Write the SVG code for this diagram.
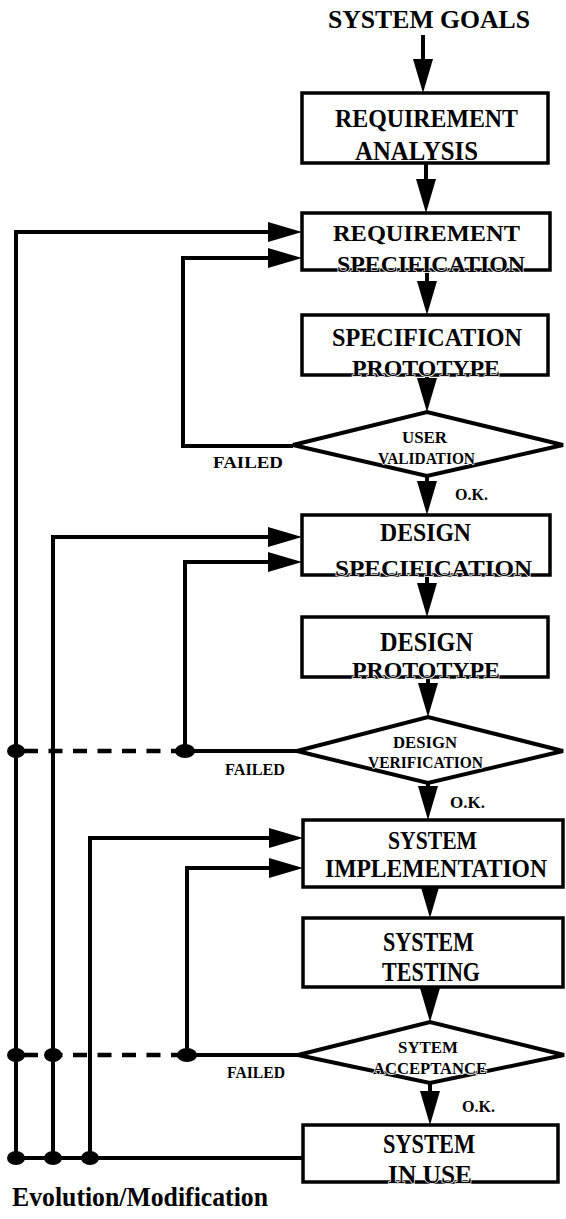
<svg xmlns="http://www.w3.org/2000/svg" width="566" height="1219" viewBox="0 0 566 1219">
<style>
  .box{fill:#fff;stroke:#000;stroke-width:3.5}
  .dia{fill:#fff;stroke:#000;stroke-width:4;stroke-linejoin:miter}
  .t{font-family:"Liberation Serif","Times New Roman",serif;font-weight:bold;fill:#000}
  .h{stroke:#fff;stroke-width:1.5;paint-order:stroke}
  .ln{fill:none;stroke:#000;stroke-width:4}
  .dash{fill:none;stroke:#000;stroke-width:4.5;stroke-dasharray:14 10.5}
  .dot{fill:#000}
</style>
<defs>
  <marker id="ah" markerUnits="userSpaceOnUse" markerWidth="36" markerHeight="22" refX="6" refY="11" orient="auto">
    <path d="M0,1 L34,11 L0,21 z" fill="#000"/>
  </marker>
</defs>

<text class="t" x="328" y="28" font-size="25" textLength="202" lengthAdjust="spacingAndGlyphs">SYSTEM GOALS</text>

<g id="connectors">
  <line class="ln" x1="423" y1="35" x2="423" y2="65" marker-end="url(#ah)"/>
  <line class="ln" x1="426" y1="163" x2="426" y2="185" marker-end="url(#ah)"/>
  <line class="ln" x1="427" y1="270" x2="427" y2="287" marker-end="url(#ah)"/>
  <line class="ln" x1="427" y1="375" x2="427" y2="384" marker-end="url(#ah)"/>
  <line class="ln" x1="427" y1="476" x2="427" y2="487" marker-end="url(#ah)"/>
  <line class="ln" x1="427" y1="575" x2="427" y2="589" marker-end="url(#ah)"/>
  <line class="ln" x1="428" y1="677" x2="428" y2="689" marker-end="url(#ah)"/>
  <line class="ln" x1="428" y1="783" x2="428" y2="792" marker-end="url(#ah)"/>
  <line class="ln" x1="430" y1="887" x2="430" y2="890" marker-end="url(#ah)"/>
  <line class="ln" x1="430" y1="987" x2="430" y2="994" marker-end="url(#ah)"/>
  <line class="ln" x1="430" y1="1083" x2="430" y2="1097" marker-end="url(#ah)"/>

  <path class="ln" d="M16,1158 V232 H274" marker-end="url(#ah)"/>
  <path class="ln" d="M53,1158 V537 H274" marker-end="url(#ah)"/>
  <path class="ln" d="M90,1158 V838 H275" marker-end="url(#ah)"/>
  <path class="ln" d="M14,1158 H303"/>
  <path class="ln" d="M293,446 H183 V258 H274" marker-end="url(#ah)"/>
  <path class="ln" d="M297,751 H185 V562 H274" marker-end="url(#ah)"/>
  <path class="ln" d="M298,1055 H187 V868 H275" marker-end="url(#ah)"/>
  <path class="dash" d="M24,751 H176"/>
  <path class="dash" d="M24,1055 H178"/>
  <ellipse class="dot" cx="16" cy="751" rx="9" ry="7"/>
  <ellipse class="dot" cx="185" cy="751" rx="10" ry="7"/>
  <ellipse class="dot" cx="16" cy="1055" rx="9" ry="7"/>
  <ellipse class="dot" cx="53" cy="1055" rx="9" ry="7"/>
  <ellipse class="dot" cx="187" cy="1055" rx="10" ry="7"/>
  <ellipse class="dot" cx="16" cy="1158" rx="9" ry="7"/>
  <ellipse class="dot" cx="53" cy="1158" rx="9" ry="7"/>
  <ellipse class="dot" cx="90" cy="1158" rx="9" ry="7"/>

  <text class="t" x="213" y="468" font-size="16" textLength="70" lengthAdjust="spacingAndGlyphs">FAILED</text>
  <text class="t" x="225" y="775" font-size="16" textLength="60" lengthAdjust="spacingAndGlyphs">FAILED</text>
  <text class="t" x="227" y="1078" font-size="16" textLength="58" lengthAdjust="spacingAndGlyphs">FAILED</text>
  <text class="t" x="455" y="500" font-size="17" textLength="33" lengthAdjust="spacingAndGlyphs">O.K.</text>
  <text class="t" x="450" y="808" font-size="17" textLength="35" lengthAdjust="spacingAndGlyphs">O.K.</text>
  <text class="t" x="462" y="1112" font-size="17" textLength="33" lengthAdjust="spacingAndGlyphs">O.K.</text>
</g>

<g id="req-analysis">
  <rect class="box" x="302" y="93" width="246" height="70"/>
  <text class="t" x="335" y="127" font-size="26" textLength="183" lengthAdjust="spacingAndGlyphs">REQUIREMENT</text>
  <text class="t" x="355" y="160" font-size="27" textLength="123" lengthAdjust="spacingAndGlyphs">ANALYSIS</text>
</g>
<g id="req-spec">
  <rect class="box" x="302" y="213" width="248" height="57"/>
  <text class="t" x="333" y="241" font-size="24" textLength="187" lengthAdjust="spacingAndGlyphs">REQUIREMENT</text>
  <text class="t h" x="337" y="272" font-size="24" textLength="188" lengthAdjust="spacingAndGlyphs">SPECIFICATION</text>
</g>
<g id="spec-proto">
  <rect class="box" x="302" y="315" width="246" height="60"/>
  <text class="t" x="332" y="346" font-size="26" textLength="190" lengthAdjust="spacingAndGlyphs">SPECIFICATION</text>
  <text class="t h" x="352" y="376" font-size="24" textLength="148" lengthAdjust="spacingAndGlyphs">PROTOTYPE</text>
</g>
<g id="user-validation">
  <polygon class="dia" points="293,445 427,412 563,445 427,476"/>
  <text class="t" x="402" y="443" font-size="16" textLength="45" lengthAdjust="spacingAndGlyphs">USER</text>
  <text class="t h" x="378" y="464" font-size="17" textLength="97" lengthAdjust="spacingAndGlyphs">VALIDATION</text>
</g>
<g id="design-spec">
  <rect class="box" x="302" y="515" width="248" height="60"/>
  <text class="t" x="380" y="541" font-size="26" textLength="91" lengthAdjust="spacingAndGlyphs">DESIGN</text>
  <text class="t h" x="335" y="576" font-size="24" textLength="197" lengthAdjust="spacingAndGlyphs">SPECIFICATION</text>
</g>
<g id="design-proto">
  <rect class="box" x="302" y="617" width="246" height="60"/>
  <text class="t" x="380" y="651" font-size="27" textLength="93" lengthAdjust="spacingAndGlyphs">DESIGN</text>
  <text class="t h" x="352" y="678" font-size="24" textLength="148" lengthAdjust="spacingAndGlyphs">PROTOTYPE</text>
</g>
<g id="design-verification">
  <polygon class="dia" points="297,751 428,717 563,751 428,783"/>
  <text class="t" x="393" y="748" font-size="17" textLength="64" lengthAdjust="spacingAndGlyphs">DESIGN</text>
  <text class="t h" x="368" y="768" font-size="17" textLength="115" lengthAdjust="spacingAndGlyphs">VERIFICATION</text>
</g>
<g id="sys-impl">
  <rect class="box" x="303" y="820" width="260" height="67"/>
  <text class="t" x="388" y="849" font-size="26" textLength="89" lengthAdjust="spacingAndGlyphs">SYSTEM</text>
  <text class="t" x="325" y="877" font-size="25" textLength="222" lengthAdjust="spacingAndGlyphs">IMPLEMENTATION</text>
</g>
<g id="sys-testing">
  <rect class="box" x="303" y="918" width="260" height="69"/>
  <text class="t" x="383" y="951" font-size="27" textLength="91" lengthAdjust="spacingAndGlyphs">SYSTEM</text>
  <text class="t" x="382" y="981" font-size="27" textLength="98" lengthAdjust="spacingAndGlyphs">TESTING</text>
</g>
<g id="sys-acceptance">
  <polygon class="dia" points="298,1055 430,1022 564,1055 430,1083"/>
  <text class="t" x="398" y="1053" font-size="17" textLength="60" lengthAdjust="spacingAndGlyphs">SYTEM</text>
  <text class="t h" x="373" y="1074" font-size="17" textLength="114" lengthAdjust="spacingAndGlyphs">ACCEPTANCE</text>
</g>
<g id="sys-in-use">
  <rect class="box" x="303" y="1125" width="255" height="57"/>
  <text class="t" x="383" y="1153" font-size="27" textLength="92" lengthAdjust="spacingAndGlyphs">SYSTEM</text>
  <text class="t h" x="388" y="1183" font-size="25" textLength="84" lengthAdjust="spacingAndGlyphs">IN USE</text>
</g>

<text class="t" x="12" y="1206" font-size="27" textLength="256" lengthAdjust="spacingAndGlyphs">Evolution/Modification</text>
</svg>
